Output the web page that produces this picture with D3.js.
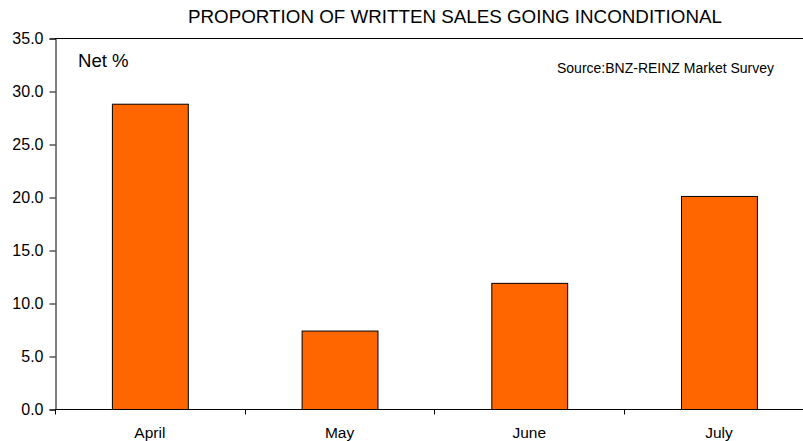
<!DOCTYPE html>
<html>
<head>
<meta charset="utf-8">
<script src="https://cdn.jsdelivr.net/npm/d3@7"></script>
<style>
  body { margin: 0; background: #fff; }
  svg { font-family: "Liberation Sans", Arial, sans-serif; }
</style>
</head>
<body>
<script>
// DATA
const months = ["April", "May", "June", "July"];
const netValues = [28.8, 7.4, 11.9, 20.1];
const yTicks = [0, 5, 10, 15, 20, 25, 30, 35];

// LAYOUT
let width = 803;
let height = 441;
let plotLeft = 55, plotTop = 38, plotBottom = 409;
let bandW = 189.7;

let svg = d3.select("body").append("svg")
    .attr("width", width)
    .attr("height", height);

let x_scale = d3.scaleBand()
    .domain(months)
    .range([plotLeft, plotLeft + bandW * months.length])
    .paddingInner(0.6)
    .paddingOuter(0.3);

let y_scale = d3.scaleLinear()
    .domain([0, 35])
    .range([plotBottom, plotTop]);

// top border of plot area
svg.append("line")
    .attr("x1", plotLeft).attr("x2", width)
    .attr("y1", plotTop + 0.5).attr("y2", plotTop + 0.5)
    .attr("stroke", "#000");

// bars
svg.selectAll("rect.bar")
    .data(netValues)
    .join("rect")
    .attr("class", "bar")
    .attr("x", (d, i) => x_scale(months[i]) + 0.5)
    .attr("y", d => y_scale(d) + 0.5)
    .attr("width", x_scale.bandwidth())
    .attr("height", d => y_scale(0) - y_scale(d))
    .attr("fill", "#FF6600")
    .attr("stroke", "#000")
    .attr("stroke-width", 1);

// y axis
let y_axis = d3.axisLeft(y_scale)
    .tickValues(yTicks)
    .tickFormat(d3.format(".1f"))
    .tickSize(6)
    .tickPadding(6);
let gy = svg.append("g")
    .attr("transform", "translate(" + (plotLeft + 0.5) + ",0.5)")
    .call(y_axis);
gy.select(".domain").attr("stroke", "#000");
gy.selectAll("text").style("font-size", "16px").attr("fill", "#000");

// x axis: ticks between categories
let gx = svg.append("g")
    .attr("transform", "translate(0," + (plotBottom + 0.5) + ")");
gx.append("line")
    .attr("x1", plotLeft).attr("x2", width)
    .attr("stroke", "#000");
gx.selectAll("line.tick")
    .data(d3.range(months.length + 1))
    .join("line")
    .attr("class", "tick")
    .attr("x1", i => Math.round(plotLeft + i * bandW) + 0.5)
    .attr("x2", i => Math.round(plotLeft + i * bandW) + 0.5)
    .attr("y1", 0).attr("y2", 5)
    .attr("stroke", "#000");
gx.selectAll("text")
    .data(months)
    .join("text")
    .attr("x", d => x_scale(d) + x_scale.bandwidth() / 2)
    .attr("y", 28)
    .attr("text-anchor", "middle")
    .style("font-size", "15.5px")
    .text(d => d);

// texts
svg.append("text")
    .attr("x", 455)
    .attr("y", 23)
    .attr("text-anchor", "middle")
    .style("font-size", "18.8px")
    .text("PROPORTION OF WRITTEN SALES GOING INCONDITIONAL");

svg.append("text")
    .attr("x", 78)
    .attr("y", 67)
    .style("font-size", "18.6px")
    .text("Net %");

svg.append("text")
    .attr("x", 557)
    .attr("y", 73)
    .style("font-size", "14px")
    .text("Source:BNZ-REINZ Market Survey");
</script>
</body>
</html>
